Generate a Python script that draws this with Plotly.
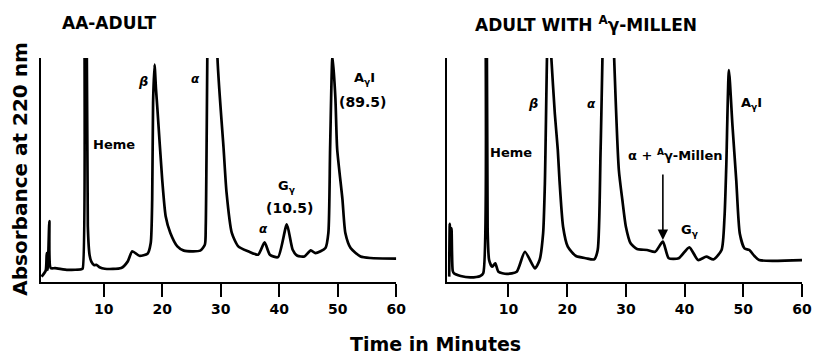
import plotly.graph_objects as go

# ---- data ----
t_left = [-0.6, 0.1, 0.28, 0.45, 0.73, 0.96, 1.7, 3.9, 6.2, 6.42, 6.52, 6.75, 6.95, 7.3, 7.6, 7.9,
          8.4, 8.75, 9.3, 10.2, 13.0, 14.1, 14.9, 16.1, 17.5, 18.05, 18.3, 18.45, 18.7, 18.95, 19.17,
          20.0, 20.6, 21.4, 22.6, 23.7, 26.5, 27.3, 27.45, 28.4, 29.45, 30.5, 31.0, 31.9, 33.0, 34.7,
          36.4, 37.5, 38.4, 39.8, 41.3, 42.3, 43.1, 44.3, 45.4, 46.2, 47.9, 48.4, 48.7, 49.1, 49.6,
          49.9, 50.8, 51.3, 52.2, 53.9, 55.6, 60.0]
a_left = [2.4, 5.0, 12.9, 5.4, 27.2, 6.2, 6.2, 5.4, 5.7, 6.0, 220, 140, 220, 25, 12, 9.1,
          7.5, 7.7, 6.6, 5.9, 6.2, 9.1, 13.7, 11.7, 12.6, 17.4, 37, 80, 97, 86, 78,
          46, 29.4, 21.9, 15.9, 14.0, 14.0, 16.7, 25, 300, 100, 59.5, 40, 21.9, 15.9, 13.7,
          12.2, 17.7, 12.2, 11.1, 25.7, 14.4, 11.7, 11.4, 14.1, 12.9, 15.2, 21.9, 60, 101, 82,
          59.5, 37, 21.9, 15.2, 11.4, 10.7, 10.4]

t_right = [-0.1, 0.0, 0.15, 0.3, 0.5, 0.7, 1.85, 3.5, 5.2, 5.7, 5.8, 6.0, 6.2, 6.45, 6.7, 7.2,
           7.75, 8.3, 9.7, 11.4, 12.8, 14.5, 15.3, 15.9, 16.2, 16.8, 17.3, 17.9, 18.4, 18.7, 19.3,
           20.1, 21.5, 23.2, 24.6, 25.2, 25.7, 26.9, 28.0, 28.8, 29.4, 30.0, 30.8, 31.9, 33.6, 35.0,
           36.3, 37.3, 39.0, 40.8, 42.3, 43.7, 44.9, 46.3, 46.8, 47.1, 47.55, 48.15, 48.8, 49.4,
           50.2, 51.0, 51.9, 52.7, 60.0]
a_right = [2.4, 26, 14, 24, 5, 3.9, 2.7, 2.1, 2.7, 3.9, 220, 140, 220, 23, 9.8, 6.8,
           8.3, 4.6, 3.6, 4.6, 13.5, 6.1, 9.8, 21.7, 44, 125, 100, 75, 59, 45, 24.7,
           15.8, 11.6, 10.6, 10.1, 14.3, 60, 200, 100, 50, 36.6, 24.7, 17.3, 14.7, 14.3, 13.5,
           18.0, 10.6, 10.6, 15.5, 9.8, 11.3, 10.1, 14.3, 29, 51.5, 94.6, 70, 45.5, 21.7,
           15.0, 14.3, 11.6, 9.8, 9.8]

tick_vals = [10, 20, 30, 40, 50, 60]
tick_text = ["10", "20", "30", "40", "50", "60"]

FONT = "DejaVu Sans"

fig = go.Figure()
fig.add_trace(go.Scatter(x=t_left, y=a_left, mode="lines", xaxis="x", yaxis="y",
                         line=dict(color="black", width=2.7, shape="spline", smoothing=0.6),
                         showlegend=False, hoverinfo="skip"))
fig.add_trace(go.Scatter(x=t_right, y=a_right, mode="lines", xaxis="x2", yaxis="y2",
                         line=dict(color="black", width=2.7, shape="spline", smoothing=0.6),
                         showlegend=False, hoverinfo="skip"))

xcommon = dict(showline=True, linecolor="black", linewidth=2, ticks="outside", ticklen=13,
               tickwidth=2, tickcolor="black", tickvals=tick_vals, ticktext=tick_text,
               showgrid=False, zeroline=False,
               tickfont=dict(family=FONT, size=14, color="black", weight="bold"))
ycommon = dict(showline=True, linecolor="black", linewidth=2, ticks="", showticklabels=False,
               showgrid=False, zeroline=False, range=[0, 100])

PL = 41
PW = 769
def px(x):
    return (x - PL) / PW

fig.update_layout(
    width=824, height=355,
    margin=dict(l=PL, r=824 - PL - PW, t=58, b=73),
    plot_bgcolor="white", paper_bgcolor="white",
    xaxis=dict(domain=[0, px(400)], range=[-0.7, 60], anchor="y", **xcommon),
    yaxis=dict(domain=[0, 1], anchor="x", **ycommon),
    xaxis2=dict(domain=[px(451.7), 1], range=[-0.4, 60], anchor="y2", **xcommon),
    yaxis2=dict(domain=[0, 1], anchor="x2", **ycommon),
)

def py(y):
    return (282 - y) / 224

anns = []
def lab(text, x, y, xref, yref, size=13, italic=False):
    anns.append(dict(text=text, x=x, y=y, xref=xref, yref=yref, showarrow=False,
                     xanchor="center", yanchor="middle",
                     font=dict(family=FONT, size=size, color="black", weight="bold",
                               style="italic" if italic else "normal")))

# titles
lab("AA-ADULT", px(110), py(23.5), "paper", "paper", size=17)
lab("ADULT WITH <sup>A</sup>γ-MILLEN", px(591.5), py(24), "paper", "paper", size=17)
lab("Time in Minutes", px(440), py(343.5), "paper", "paper", size=19)
anns.append(dict(text="Absorbance at 220 nm", x=px(19.5), y=py(169), xref="paper", yref="paper",
                 showarrow=False, textangle=-90, xanchor="center", yanchor="middle",
                 font=dict(family=FONT, size=20, color="black", weight="bold")))

# left peak labels
lab("Heme", 11.7, 61.5, "x", "y", size=13)
lab("β", 16.75, 89.5, "x", "y", size=13, italic=True)
lab("α", 25.7, 90.5, "x", "y", size=12, italic=True)
lab("A<sub>γ</sub>I", 54.6, 91, "x", "y", size=13)
lab("(89.5)", 54.3, 80.5, "x", "y", size=14)
lab("α", 37.4, 23.5, "x", "y", size=12, italic=True)
lab("G<sub>γ</sub>", 41.3, 42.5, "x", "y", size=13)
lab("(10.5)", 41.7, 33.0, "x", "y", size=14)

# right peak labels
lab("Heme", 10.5, 57.8, "x2", "y2", size=13)
lab("β", 14.1, 79.5, "x2", "y2", size=13, italic=True)
lab("α", 24.2, 79.5, "x2", "y2", size=12, italic=True)
lab("α + <sup>A</sup>γ-Millen", 38.5, 56.7, "x2", "y2", size=13)
lab("G<sub>γ</sub>", 41.0, 23.2, "x2", "y2", size=13)
lab("A<sub>γ</sub>I", 51.4, 79.5, "x2", "y2", size=13)
anns.append(dict(text="", x=36.3, y=18.75, xref="x2", yref="y2", showarrow=True,
                 ax=0, ay=-67, arrowhead=2, arrowsize=1.3, arrowwidth=1.6, arrowcolor="black"))

fig.update_layout(annotations=anns)
fig.write_html("out.html")
